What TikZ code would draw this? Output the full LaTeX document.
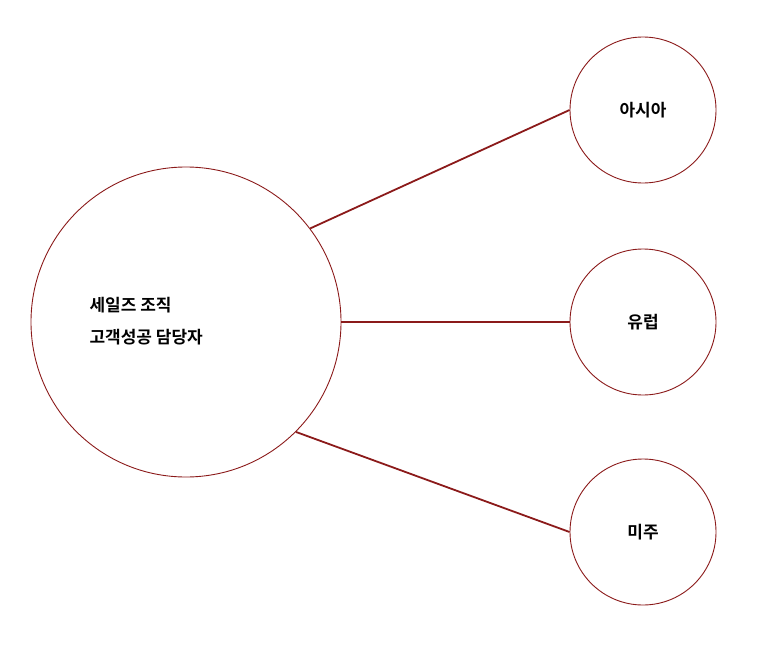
\documentclass[tikz,border=0pt]{standalone}
\usepackage{fontspec}
\newfontfamily\kr{Noto Sans CJK KR}[BoldFont={Noto Sans CJK KR Bold}]
\definecolor{dred}{HTML}{8B1A1A}
\begin{document}
\begin{tikzpicture}[x=1pt,y=-1pt,
  circ/.style={circle,draw=dred,line width=0.9pt,inner sep=0pt},
  conn/.style={draw=dred,line width=1.8pt},
  lbl/.style={font=\kr\bfseries\fontsize{17}{32}\selectfont}]
\useasboundingbox (0,0) rectangle (770,658);
\node[circ,minimum size=310pt] (c) at (186,322) {};
\node[lbl,anchor=west,align=left] (ct) at (86,321) {세일즈 조직\\고객성공 담당자};
\node[circ,minimum size=146pt,lbl] (a) at (643,110) {아시아};
\node[circ,minimum size=146pt,lbl] (e) at (643,322) {유럽};
\node[circ,minimum size=146pt,lbl] (m) at (643,532) {미주};
\draw[conn] (c.37.6) -- (a.west);
\draw[conn] (c) -- (e);
\draw[conn] (c.-45.8) -- (m.west);
\end{tikzpicture}
\end{document}
